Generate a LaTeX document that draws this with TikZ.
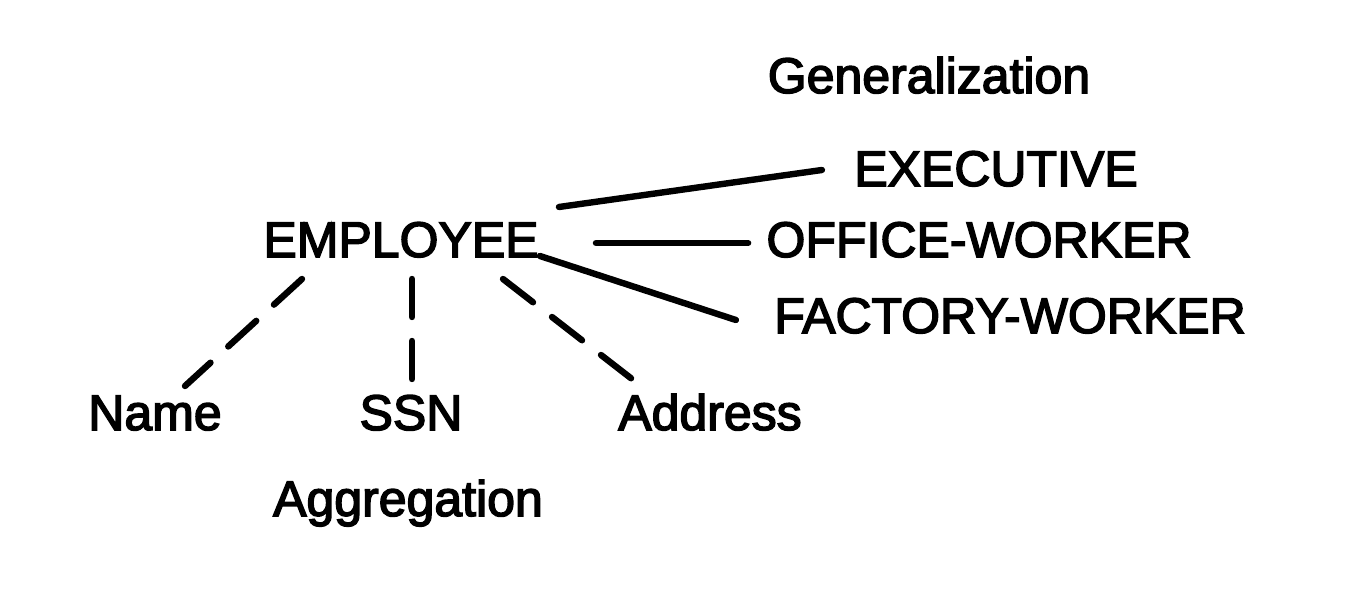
\documentclass[tikz,border=0pt]{standalone}
\usepackage{fontspec}
\setmainfont{Liberation Sans}[FakeBold=3]
\usetikzlibrary{calc}
\begin{document}
\begin{tikzpicture}[x=0.5pt,y=-0.5pt,
  lbl/.style={inner sep=0pt,anchor=base,font=\fontsize{25pt}{30pt}\selectfont},
  solidlink/.style={line width=3.2pt,line cap=round},
  dashlink/.style={line width=3.2pt,line cap=round,dash pattern=on 19pt off 12pt}]
\useasboundingbox[fill=white] (0,0) rectangle (1347,593);
\node[lbl] (gen)  at (929,93)  {Generalization};
\node[lbl] (exe)  at (996,186) {EXECUTIVE};
\node[lbl] (emp)  at (401,257) {EMPLOYEE};
\node[lbl] (off)  at (979,257) {OFFICE-WORKER};
\node[lbl] (fac)  at (1010,333) {FACTORY-WORKER};
\node[lbl] (name) at (155,430) {Name};
\node[lbl] (ssn)  at (411,430) {SSN};
\node[lbl] (addr) at (710,430) {Address};
\node[lbl] (agg)  at (408,516) {Aggregation};
% generalization links
\draw[solidlink] ($(emp.base east)+(20,-50)$) -- ($(exe.base west)+(-32,-16)$);
\draw[solidlink] ($(emp.base east)+(57,-14)$) -- ($(off.base west)+(-18,-14)$);
\draw[solidlink] ($(emp.base east)+(1,-1)$) -- ($(fac.base west)+(-38,-13)$);
% aggregation links
\draw[dashlink] ($(emp.base)+(-99,22)$) -- ($(name.base)+(30,-44)$);
\draw[dashlink] ($(emp.base)+(11,22)$) -- ($(ssn.base)+(1,-44)$);
\draw[dashlink] ($(emp.base)+(102,22)$) -- ($(addr.base)+(-69,-44)$);
\end{tikzpicture}
\end{document}
